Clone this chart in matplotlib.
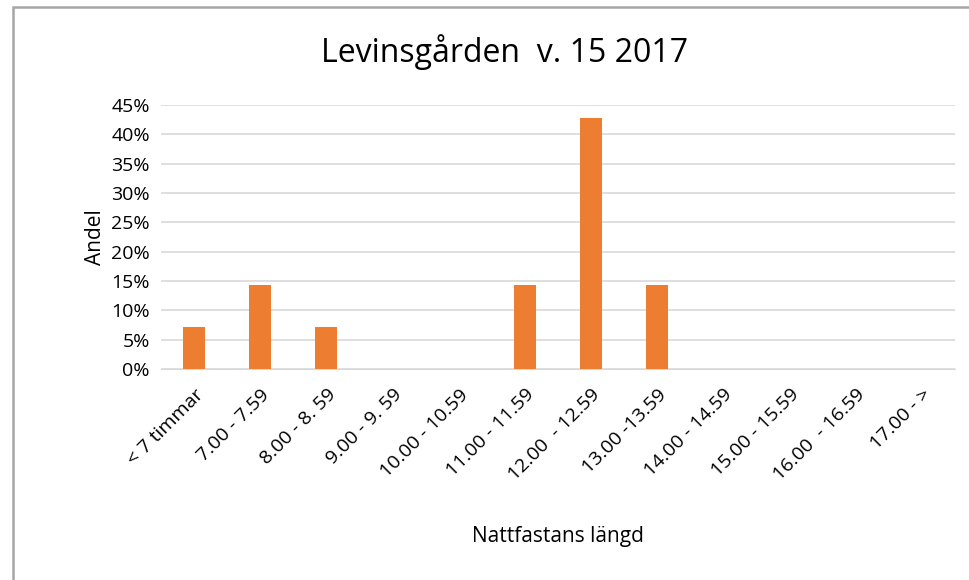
import matplotlib
matplotlib.use("Agg")
import matplotlib.pyplot as plt
from matplotlib.patches import Rectangle
from matplotlib.ticker import MultipleLocator, PercentFormatter

# data
categories = ["< 7 timmar", "7.00 - 7.59", "8.00 - 8. 59", "9.00 - 9. 59",
              "10.00 - 10.59", "11.00 - 11.59", "12.00  - 12.59", "13.00 -13.59",
              "14.00 - 14.59", "15.00 - 15.59", "16.00  - 16.59", "17.00 - >"]
andel = [1/14, 2/14, 1/14, 0, 0, 2/14, 6/14, 2/14, 0, 0, 0, 0]

plt.rcParams['font.family'] = ['Open Sans', 'DejaVu Sans']

fig = plt.figure(figsize=(9.7, 5.8), dpi=100)
ax = fig.add_axes([161/970, 1 - 369/580, 794/970, 264/580])

x = range(len(categories))
ax.bar(x, andel, width=0.33, color="#ed7d31", zorder=3)

ax.set_xlim(-0.5, len(categories) - 0.5)
ax.set_ylim(0, 0.45)
ax.yaxis.set_major_locator(MultipleLocator(0.05))
ax.yaxis.set_major_formatter(PercentFormatter(1.0, decimals=0))
ax.grid(axis="y", color="#d9d9d9", linewidth=1.2, zorder=0)
for s in ["top", "right", "left"]:
    ax.spines[s].set_visible(False)
ax.spines["bottom"].set_color("#d9d9d9")
ax.tick_params(axis="both", length=0, labelsize=14, colors="#000000")
ax.tick_params(axis="y", pad=8)

ax.set_xticks(list(x))
ax.set_xticklabels(categories, rotation=45, ha="right", va="top",
                   rotation_mode="anchor")
ax.tick_params(axis="x", pad=12)

ax.set_ylabel("Andel", fontsize=15, labelpad=4)
ax.set_xlabel("Nattfastans längd", fontsize=15, labelpad=30)
fig.text(505/970, 1 - 52/580, "Levinsgården  v. 15 2017", fontsize=23,
         ha="center", va="center")

# chart border
fig.patches.append(Rectangle((13/970, -0.05), 1.1, 1 - 7/580 + 0.05,
                             transform=fig.transFigure, fill=False,
                             edgecolor="#a6a6a6", linewidth=1.8))

fig.savefig("out.png", dpi=100)
